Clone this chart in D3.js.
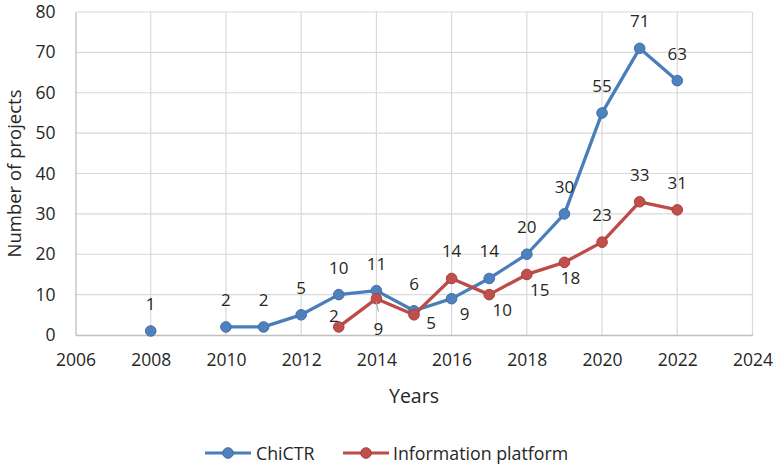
<!DOCTYPE html>
<html><head><meta charset="utf-8">
<script src="https://cdn.jsdelivr.net/npm/d3@7"></script>
<style>
body{margin:0;background:#fff;}
text{font-family:"Open Sans",sans-serif;fill:#262626;}
</style></head>
<body><svg id="c" width="780" height="467"></svg>
<script>
const years = [2008, 2009, 2010, 2011, 2012, 2013, 2014, 2015, 2016, 2017, 2018, 2019, 2020, 2021, 2022];
const chictr = [1, null, 2, 2, 5, 10, 11, 6, 9, 14, 20, 30, 55, 71, 63];
const infoPlatform = [null, null, null, null, null, 2, 9, 5, 14, 10, 15, 18, 23, 33, 31];
const chictrLabelPlace = ["above", null, "above", "above", "above", "above", "above", "above", "belowRight", "above", "above", "above", "above", "above", "above"];
const infoLabelPlace = [null, null, null, null, null, "aboveLeft", "belowLeader", "right", "above", "belowRight", "belowRight", "below", "above", "above", "above"];
const xTicks = [2006, 2008, 2010, 2012, 2014, 2016, 2018, 2020, 2022, 2024];
const yTicks = [0, 10, 20, 30, 40, 50, 60, 70, 80];
const seriesNames = ["ChiCTR", "Information platform"];

const svg = d3.select("#c");
const m = {l: 75.5, r: 752.5, t: 12, b: 335};
const x = d3.scaleLinear().domain([2006, 2024]).range([m.l, m.r]);
const y = d3.scaleLinear().domain([0, 80]).range([m.b, m.t]);

const grid = svg.append("g");
grid.selectAll(".hg").data(yTicks.filter(d => d > 0)).join("line")
  .attr("x1", m.l).attr("x2", m.r).attr("y1", d => y(d)).attr("y2", d => y(d))
  .attr("stroke", "#d9d9d9").attr("stroke-width", 1.2);
grid.selectAll(".vg").data(xTicks.filter(d => d > 2006)).join("line")
  .attr("x1", d => x(d)).attr("x2", d => x(d)).attr("y1", m.t).attr("y2", m.b)
  .attr("stroke", "#d9d9d9").attr("stroke-width", 1.2);

// axes
const xAxis = d3.axisBottom(x).tickValues(xTicks).tickFormat(d3.format("d")).tickSize(0).tickPadding(19);
const gx = svg.append("g").attr("transform", `translate(0,${m.b})`).call(xAxis);
gx.select(".domain").attr("stroke", "#bfbfbf").attr("stroke-width", 1.3);
gx.selectAll("text").attr("font-size", "17.5px").attr("fill", "#262626").attr("font-family", "Open Sans");

const yAxis = d3.axisLeft(y).tickValues(yTicks).tickSize(0).tickPadding(20);
const gy = svg.append("g").attr("transform", `translate(${m.l},0)`).call(yAxis);
gy.select(".domain").attr("stroke", "#bfbfbf").attr("stroke-width", 1.3);
gy.selectAll("text").attr("font-size", "17.5px").attr("fill", "#262626").attr("font-family", "Open Sans");

svg.append("text").attr("transform", `translate(21,${(m.t + m.b) / 2}) rotate(-90)`)
  .attr("text-anchor", "middle").attr("font-size", "18.5px").text("Number of projects");
svg.append("text").attr("x", (m.l + m.r) / 2).attr("y", 403)
  .attr("text-anchor", "middle").attr("font-size", "19.5px").text("Years");

const colors = [{line: "#4a7ebb", fill: "#4f81bd", stroke: "#3f6ea8"}, {line: "#be4b48", fill: "#c0504d", stroke: "#a9403d"}];
const series = [chictr, infoPlatform];
const places = [chictrLabelPlace, infoLabelPlace];

const line = d3.line().defined(d => d.v !== null).x(d => x(d.yr)).y(d => y(d.v));

const order = [0, 1];
order.forEach(si => {
  const pts = years.map((yr, i) => ({yr, v: series[si][i], place: places[si][i]}));
  const g = svg.append("g");
  g.append("path").datum(pts).attr("d", line).attr("fill", "none")
    .attr("stroke", colors[si].line).attr("stroke-width", 3.3).attr("stroke-linejoin", "round");
  g.selectAll("circle").data(pts.filter(d => d.v !== null)).join("circle")
    .attr("cx", d => x(d.yr)).attr("cy", d => y(d.v)).attr("r", 5.3)
    .attr("fill", colors[si].fill).attr("stroke", colors[si].stroke).attr("stroke-width", 1);
});

const off = {
  above: [0, -27.5], belowRight: [13, 15], aboveLeft: [-5, -11],
  belowLeader: [2, 30], right: [17, 8], below: [6, 15]
};
order.forEach(si => {
  const pts = years.map((yr, i) => ({yr, v: series[si][i], place: places[si][i]})).filter(d => d.v !== null);
  const g = svg.append("g");
  pts.forEach(d => {
    const o = off[d.place];
    if (d.place === "belowLeader") {
      g.append("line").attr("x1", x(d.yr)).attr("y1", y(d.v) + 3).attr("x2", x(d.yr) + 2).attr("y2", y(d.v) + 13)
        .attr("stroke", "#a6a6a6").attr("stroke-width", 1);
    }
    g.append("text").attr("x", x(d.yr) + o[0]).attr("y", y(d.v) + o[1])
      .attr("text-anchor", "middle").attr("dominant-baseline", "central")
      .attr("font-size", "17px").text(d.v);
  });
});

// legend
const legend = [{name: seriesNames[0], x0: 205, tx: 256}, {name: seriesNames[1], x0: 343, tx: 393}];
const lg = svg.append("g");
legend.forEach((L, i) => {
  lg.append("line").attr("x1", L.x0).attr("x2", L.x0 + 46).attr("y1", 453).attr("y2", 453)
    .attr("stroke", colors[i].line).attr("stroke-width", 3);
  lg.append("circle").attr("cx", L.x0 + 23).attr("cy", 453).attr("r", 5.3)
    .attr("fill", colors[i].fill).attr("stroke", colors[i].stroke);
  lg.append("text").attr("x", L.tx).attr("y", 453).attr("dominant-baseline", "central")
    .attr("font-size", "17.8px").text(L.name);
});
</script></body></html>
